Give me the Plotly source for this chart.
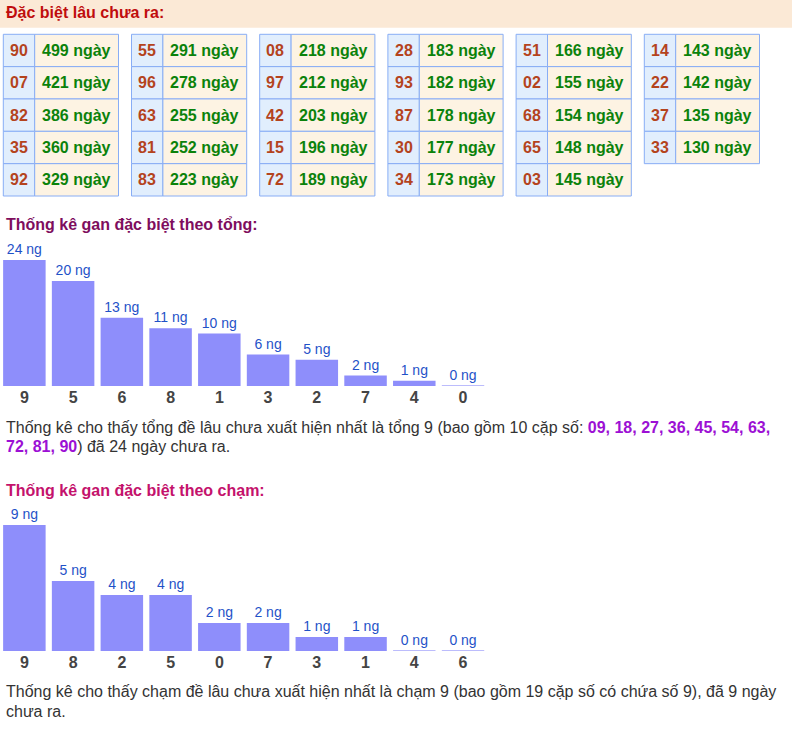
import plotly.graph_objects as go

W, H = 792, 732
FONT = "Liberation Sans, Arial, sans-serif"

# ---------------- data ----------------
gan_numbers = ["90", "07", "82", "35", "92", "55", "96", "63", "81", "83",
               "08", "97", "42", "15", "72", "28", "93", "87", "30", "34",
               "51", "02", "68", "65", "03", "14", "22", "37", "33"]
gan_days = [499, 421, 386, 360, 329, 291, 278, 255, 252, 223,
            218, 212, 203, 196, 189, 183, 182, 178, 177, 173,
            166, 155, 154, 148, 145, 143, 142, 135, 130]

tong_categories = ["9", "5", "6", "8", "1", "3", "2", "7", "4", "0"]
tong_values = [24, 20, 13, 11, 10, 6, 5, 2, 1, 0]

cham_categories = ["9", "8", "2", "5", "0", "7", "3", "1", "4", "6"]
cham_values = [9, 5, 4, 4, 2, 2, 1, 1, 0, 0]

header_title = "Đặc biệt lâu chưa ra:"
tong_title = "Thống kê gan đặc biệt theo tổng:"
cham_title = "Thống kê gan đặc biệt theo chạm:"
tong_text_1 = ("Thống kê cho thấy tổng đề lâu chưa xuất hiện nhất là tổng 9 (bao gồm 10 cặp số: "
               "<b><span style='color:#9c10d4'>09, 18, 27, 36, 45, 54, 63,</span></b>")
tong_text_2 = "<b><span style='color:#9c10d4'>72, 81, 90</span></b>) đã 24 ngày chưa ra."
cham_text_1 = ("Thống kê cho thấy chạm đề lâu chưa xuất hiện nhất là chạm 9 "
               "(bao gồm 19 cặp số có chứa số 9), đã 9 ngày")
cham_text_2 = "chưa ra."


def px(x):
    return x / W


def py(y):
    return 1 - y / H


fig = go.Figure()
shapes = []
annotations = []

# ---------------- header band ----------------
shapes.append(dict(type="rect", xref="paper", yref="paper", x0=0, x1=1,
                   y0=py(27.7), y1=1, fillcolor="#fbe9d6", line=dict(width=0), layer="below"))
annotations.append(dict(xref="paper", yref="paper", x=px(4), y=py(13), xanchor="left",
                        yanchor="middle", showarrow=False, text="<b>" + header_title + "</b>",
                        font=dict(family=FONT, size=16, color="#c00d0d")))

# ---------------- tables ----------------
ROWS = 5
T_LEFT, T_PITCH, T_W, T_LW = 3.3, 128.2, 115.2, 31.4
T_TOP, R_H = 34.3, 32.34
BORDER = "#88adf5"
for k, (num, d) in enumerate(zip(gan_numbers, gan_days)):
    col, row = divmod(k, ROWS)
    x0 = T_LEFT + T_PITCH * col
    xm = x0 + T_LW
    x1 = x0 + T_W
    y0 = T_TOP + R_H * row
    y1 = y0 + R_H
    shapes.append(dict(type="rect", xref="paper", yref="paper", x0=px(x0), x1=px(xm),
                       y0=py(y1), y1=py(y0), fillcolor="#e1eefd",
                       line=dict(color=BORDER, width=1)))
    shapes.append(dict(type="rect", xref="paper", yref="paper", x0=px(xm), x1=px(x1),
                       y0=py(y1), y1=py(y0), fillcolor="#fdf3e3",
                       line=dict(color=BORDER, width=1)))
    yc = (y0 + y1) / 2
    annotations.append(dict(xref="paper", yref="paper", x=px((x0 + xm) / 2), y=py(yc),
                            xanchor="center", yanchor="middle", showarrow=False,
                            text="<b>%s</b>" % num,
                            font=dict(family=FONT, size=16, color="#b4431d")))
    annotations.append(dict(xref="paper", yref="paper", x=px((xm + x1) / 2), y=py(yc),
                            xanchor="center", yanchor="middle", showarrow=False,
                            text="<b>%d ngày</b>" % d,
                            font=dict(family=FONT, size=16, color="#0b820b")))

# ---------------- bar charts ----------------
BAR_COLOR = "#8e8efb"
X_END = 487.4


def add_chart(cats, vals, xa, ya, title, title_y, title_color):
    fig.add_trace(go.Bar(
        x=cats, y=vals, xaxis=xa, yaxis=ya,
        marker=dict(color=BAR_COLOR, line=dict(width=0)),
        texttemplate="%{y} ng", textposition="outside", cliponaxis=False,
        textfont=dict(family=FONT, size=14, color="#1f52c8"),
        hoverinfo="skip", showlegend=False,
    ))
    for i, v in enumerate(vals):
        if v == 0:
            shapes.append(dict(type="line", xref=xa, yref=ya, x0=i - 0.435, x1=i + 0.435,
                               y0=0, y1=0, line=dict(color="#a6a6fb", width=1.5)))
    annotations.append(dict(xref="paper", yref="paper", x=px(4), y=py(title_y),
                            xanchor="left", yanchor="middle", showarrow=False,
                            text="<b>" + title + "</b>",
                            font=dict(family=FONT, size=16, color=title_color)))


add_chart(tong_categories, tong_values, "x", "y", tong_title, 225, "#7e0d5d")
add_chart(cham_categories, cham_values, "x2", "y2", cham_title, 490.5, "#c4126c")

axis_common = dict(type="category", showgrid=False, zeroline=False, showline=False,
                   ticks="", tickfont=dict(family=FONT, size=16, color="#444444", weight="bold"),
                   fixedrange=True)
yaxis_common = dict(showgrid=False, zeroline=False, showline=False, showticklabels=False,
                    fixedrange=True)

# ---------------- paragraphs ----------------
for txt, yv in [(tong_text_1, 427), (tong_text_2, 446), (cham_text_1, 691), (cham_text_2, 711)]:
    annotations.append(dict(xref="paper", yref="paper", x=px(4), y=py(yv),
                            xanchor="left", yanchor="middle", showarrow=False, text=txt,
                            font=dict(family=FONT, size=16, color="#333333")))

fig.update_layout(
    width=W, height=H, margin=dict(l=0, r=0, t=0, b=0),
    paper_bgcolor="white", plot_bgcolor="rgba(0,0,0,0)",
    bargap=0.128,
    xaxis=dict(domain=[0, px(X_END)], range=[-0.5, 9.5], anchor="y", **axis_common),
    yaxis=dict(domain=[py(386), py(260)], range=[0, max(tong_values)], anchor="x",
               **yaxis_common),
    xaxis2=dict(domain=[0, px(X_END)], range=[-0.5, 9.5], anchor="y2", **axis_common),
    yaxis2=dict(domain=[py(651), py(525)], range=[0, max(cham_values)], anchor="x2",
                **yaxis_common),
    shapes=shapes, annotations=annotations,
)

fig.write_html("out.html", config={"displayModeBar": False},
               post_script="document.body.style.margin='0';document.body.style.overflow='hidden';")
